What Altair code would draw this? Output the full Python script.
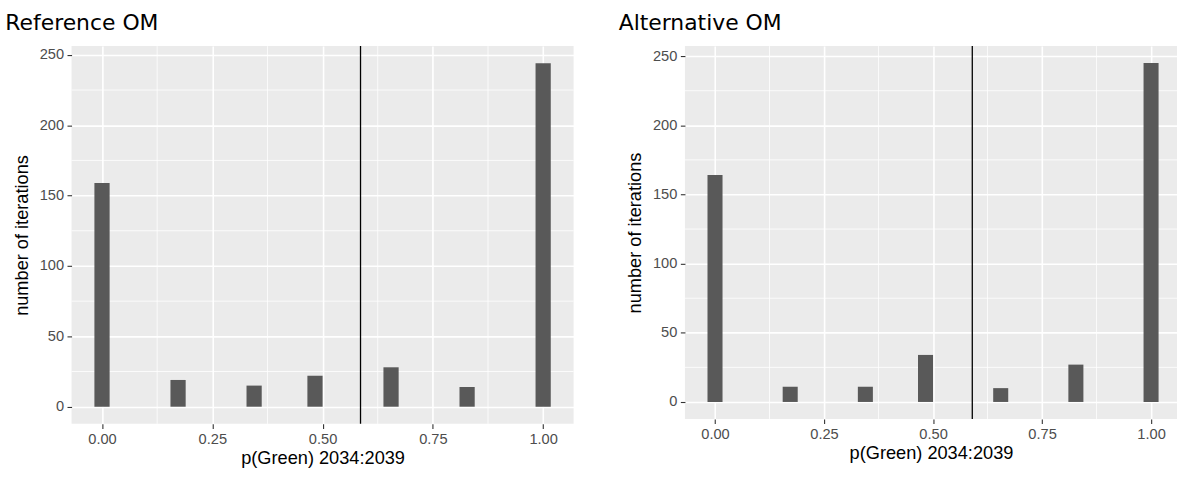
import altair as alt
import pandas as pd

# ---- data ----
bin_centers = [0.0, 0.1724, 0.3448, 0.4828, 0.6552, 0.8276, 1.0]
counts_ref = [159, 19, 15, 22, 28, 14, 244]
counts_alt = [164, 11, 11, 34, 10, 27, 245]
mean_ref = 0.586
mean_alt = 0.590
panel_titles = ["Reference OM", "Alternative OM"]
x_ticks = [0.0, 0.25, 0.5, 0.75, 1.0]
x_minor = [0.125, 0.375, 0.625, 0.875]
y_ticks = [0, 50, 100, 150, 200, 250]
y_minor = [25, 75, 125, 175, 225]
x_title = "p(Green) 2034:2039"
y_title = "number of iterations"

BIN_WIDTH = 1 / 29
BAR = "#595959"
FONT = "Liberation Sans"

axis_style = dict(
    domain=False,
    tickColor="#333333",
    tickSize=4.6,
    tickWidth=1.1,
    labelColor="#4D4D4D",
    labelFont=FONT,
    labelFontSize=14.7,
    labelPadding=3.5,
    titleFont=FONT,
    titleFontSize=18.3,
    titleFontWeight="normal",
    titleColor="black",
    gridColor="white",
    gridWidth=1.6,
)


def panel(counts, mean, title, width, height, x_max):
    top = max(counts)
    xs = alt.Scale(domain=[-0.069, x_max], nice=False, zero=False)
    ys = alt.Scale(domain=[-0.05 * top, 1.05 * top], nice=False, zero=False)
    x_axis = alt.Axis(values=x_ticks, format=".2f", title=x_title,
                      titlePadding=3, **axis_style)
    y_axis = alt.Axis(values=y_ticks, format="d", title=y_title,
                      titlePadding=8, **axis_style)

    bars_df = pd.DataFrame({"center": bin_centers, "count": counts})
    bars = (
        alt.Chart(bars_df)
        .transform_calculate(
            x0=f"datum.center - {BIN_WIDTH / 2}",
            x1=f"datum.center + {BIN_WIDTH / 2}",
        )
        .mark_rect(color=BAR)
        .encode(
            x=alt.X("x0:Q", scale=xs, axis=x_axis),
            x2="x1:Q",
            y=alt.Y("count:Q", scale=ys, axis=y_axis),
            y2=alt.datum(0),
        )
    )
    minor_x = (
        alt.Chart(pd.DataFrame({"v": x_minor}))
        .mark_rule(color="white", strokeWidth=0.8)
        .encode(x=alt.X("v:Q", scale=xs, axis=x_axis))
    )
    minor_y = (
        alt.Chart(pd.DataFrame({"v": y_minor}))
        .mark_rule(color="white", strokeWidth=0.8)
        .encode(y=alt.Y("v:Q", scale=ys, axis=y_axis))
    )
    vline = (
        alt.Chart(pd.DataFrame({"m": [mean]}))
        .mark_rule(color="black", strokeWidth=1.3)
        .encode(x=alt.X("m:Q", scale=xs, axis=x_axis))
    )
    return alt.layer(minor_x, minor_y, bars, vline).properties(
        width=width,
        height=height,
        title=alt.TitleParams(
            title, anchor="start", dx=-7, fontSize=22, font="DejaVu Sans",
            fontWeight="normal", offset=11, color="black",
        ),
    )


left = panel(counts_ref, mean_ref, panel_titles[0], 505, 380, 1.069)
right = panel(counts_alt, mean_alt, panel_titles[1], 495, 375, 1.0595)

chart = (
    alt.hconcat(left, right, spacing=44)
    .properties(
        padding={"left": 5, "top": 10, "right": 0, "bottom": 0},
        background="white",
    )
    .configure_view(fill="#EBEBEB", stroke=None)
)

chart.save("out.html", embed_options={"renderer": "svg", "actions": False})
